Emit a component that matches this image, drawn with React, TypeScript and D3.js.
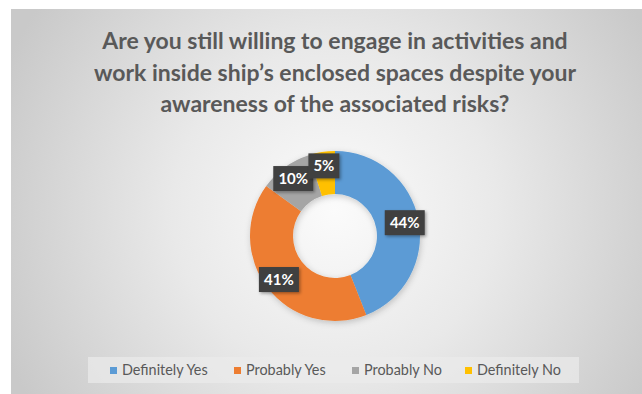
import React from "react";
import * as d3 from "d3";

const categories = ["Definitely Yes", "Probably Yes", "Probably No", "Definitely No"];
const values = [44, 41, 10, 5];
const colors = ["#5B9BD5", "#ED7D31", "#A5A5A5", "#FFC000"];
const titleLines = [
  "Are you still willing to engage in activities and",
  "work inside ship\u2019s enclosed spaces despite your",
  "awareness of the associated risks?",
];

const W = 642;
const H = 394;
const cx = 335;
const cy = 236;
const outerR = 85;
const innerR = 42;
const labelR = 71;
const FONT = "Lato, 'Open Sans', sans-serif";

export default function App() {
  const pie = d3.pie<number>().sort(null).value((d) => d)(values);
  const arc = d3.arc<d3.PieArcDatum<number>>().innerRadius(innerR).outerRadius(outerR);
  const labelArc = d3.arc<d3.PieArcDatum<number>>().innerRadius(labelR).outerRadius(labelR);
  const total = d3.sum(values);

  const legendX = d3.scaleOrdinal<string, number>().domain(categories).range([110, 234, 352, 465]);

  return (
    <svg width={W} height={H} style={{ position: "absolute", left: 0, top: 0 }}>
      <defs>
        <radialGradient id="bg" cx="335" cy="210" r="360" gradientUnits="userSpaceOnUse">
          <stop offset="0" stopColor="#fbfbfb" />
          <stop offset="0.45" stopColor="#e9e9e9" />
          <stop offset="1" stopColor="#c9c9c9" />
        </radialGradient>
        <filter id="sh" x="-30%" y="-30%" width="160%" height="160%">
          <feDropShadow dx="1.5" dy="1.5" stdDeviation="1.5" floodColor="#000" floodOpacity="0.35" />
        </filter>
        <filter id="sh2" x="-20%" y="-20%" width="140%" height="140%">
          <feDropShadow dx="1" dy="2" stdDeviation="3" floodColor="#000" floodOpacity="0.2" />
        </filter>
      </defs>
      <rect x={0} y={0} width={W} height={H} fill="#ffffff" />
      <rect x={11} y={9} width={W - 11} height={H - 9} fill="url(#bg)" />
      {titleLines.map((t, i) => (
        <text
          key={i}
          x={cx}
          y={49 + i * 31.5}
          textAnchor="middle"
          fontFamily={FONT}
          fontWeight="bold"
          fontSize={23}
          fill="#595959"
        >
          {t}
        </text>
      ))}
      <g transform={`translate(${cx},${cy})`}>
        <g filter="url(#sh2)">
          {pie.map((p, i) => (
            <path key={i} d={arc(p) || ""} fill={colors[i]} stroke="none" />
          ))}
        </g>
        {pie.map((p, i) => {
          const [lx, ly] = labelArc.centroid(p);
          const txt = `${Math.round((p.value / total) * 100)}%`;
          const bw = txt.length === 2 ? 31 : 40;
          const bh = 25;
          return (
            <g key={"l" + i} transform={`translate(${lx},${ly})`}>
              <rect x={-bw / 2} y={-bh / 2} width={bw} height={bh} fill="#404040" filter="url(#sh)" />
              <text
                x={0}
                y={5}
                textAnchor="middle"
                fontFamily={FONT}
                fontWeight="bold"
                fontSize={15}
                fill="#ffffff"
              >
                {txt}
              </text>
            </g>
          );
        })}
      </g>
      <rect x={88} y={357} width={491} height={26} fill="#ebebeb" opacity={0.7} />
      {categories.map((c, i) => (
        <g key={c} transform={`translate(${legendX(c)},370)`}>
          <rect x={0} y={-3} width={7} height={7} fill={colors[i]} />
          <text x={12} y={5} fontFamily={FONT} fontSize={14.4} fill="#595959">
            {c}
          </text>
        </g>
      ))}
    </svg>
  );
}
